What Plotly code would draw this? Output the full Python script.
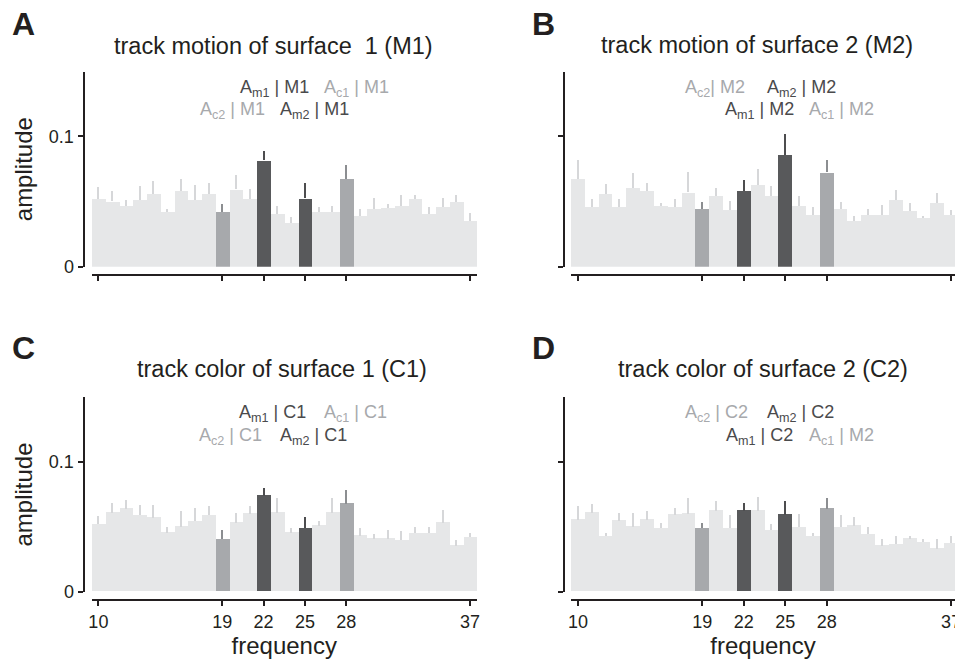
import plotly.graph_objects as go

# ---------------- data ----------------
freqs = list(range(10, 38))
tick_freqs = [10, 19, 22, 25, 28, 37]
mid_freqs = [19, 28]     # A_c2, A_c1
dark_freqs = [22, 25]    # A_m1, A_m2

amp_M1 = [0.0518, 0.0502, 0.0464, 0.0510, 0.0559, 0.0421, 0.0579, 0.0510, 0.0559, 0.0421,
          0.0594, 0.0518, 0.0816, 0.0403, 0.0334, 0.0525, 0.0421, 0.0421, 0.0671, 0.0388,
          0.0441, 0.0449, 0.0464, 0.0518, 0.0403, 0.0457, 0.0495, 0.0349]
err_M1 = [0.0092, 0.0077, 0.0051, 0.0107, 0.0096, 0.0018, 0.0092, 0.0115, 0.0081, 0.0058,
          0.0107, 0.0074, 0.0069, 0.0061, 0.0046, 0.0115, 0.0036, 0.0043, 0.0107, 0.0058,
          0.0087, 0.0033, 0.0089, 0.0030, 0.0054, 0.0068, 0.0053, 0.0062]

amp_M2 = [0.0671, 0.0457, 0.0556, 0.0457, 0.0602, 0.0579, 0.0464, 0.0457, 0.0571, 0.0441,
          0.0541, 0.0434, 0.0579, 0.0625, 0.0541, 0.0857, 0.0464, 0.0395, 0.0724, 0.0441,
          0.0349, 0.0395, 0.0395, 0.0510, 0.0426, 0.0372, 0.0487, 0.0395]
err_M2 = [0.0145, 0.0061, 0.0076, 0.0061, 0.0117, 0.0059, 0.0021, 0.0061, 0.0158, 0.0054,
          0.0061, 0.0071, 0.0087, 0.0122, 0.0079, 0.0158, 0.0077, 0.0062, 0.0097, 0.0054,
          0.0039, 0.0046, 0.0077, 0.0077, 0.0061, 0.0018, 0.0077, 0.0039]

amp_C1 = [0.0517, 0.0609, 0.0639, 0.0586, 0.0570, 0.0455, 0.0501, 0.0540, 0.0586, 0.0402,
          0.0532, 0.0601, 0.0739, 0.0609, 0.0455, 0.0486, 0.0509, 0.0609, 0.0678, 0.0432,
          0.0409, 0.0409, 0.0394, 0.0448, 0.0448, 0.0532, 0.0355, 0.0417]
err_C1 = [0.0064, 0.0076, 0.0069, 0.0084, 0.0100, 0.0039, 0.0123, 0.0107, 0.0076, 0.0076,
          0.0077, 0.0061, 0.0062, 0.0115, 0.0036, 0.0092, 0.0038, 0.0115, 0.0102, 0.0054,
          0.0031, 0.0069, 0.0069, 0.0046, 0.0053, 0.0100, 0.0039, 0.0038]

amp_C2 = [0.0555, 0.0609, 0.0425, 0.0547, 0.0501, 0.0555, 0.0486, 0.0593, 0.0601, 0.0486,
          0.0624, 0.0486, 0.0624, 0.0624, 0.0471, 0.0593, 0.0494, 0.0425, 0.0639, 0.0494,
          0.0509, 0.0440, 0.0355, 0.0363, 0.0409, 0.0379, 0.0332, 0.0371]
err_C2 = [0.0107, 0.0069, 0.0030, 0.0062, 0.0108, 0.0069, 0.0046, 0.0054, 0.0123, 0.0046,
          0.0077, 0.0100, 0.0061, 0.0107, 0.0053, 0.0108, 0.0107, 0.0023, 0.0085, 0.0092,
          0.0069, 0.0054, 0.0047, 0.0062, 0.0023, 0.0030, 0.0070, 0.0054]

panel_letters = ["A", "B", "C", "D"]
panel_titles = ["track motion of surface  1 (M1)", "track motion of surface 2 (M2)",
                "track color of surface 1 (C1)", "track color of surface 2 (C2)"]

# labels: (text, x-start in frequency units, row, kind)
labels_A = [("A<sub>m1</sub> | M1", 20.15, 1, "dark"), ("A<sub>c1</sub> | M1", 26.25, 1, "light"),
            ("A<sub>c2</sub> | M1", 17.2, 2, "light"), ("A<sub>m2</sub> | M1", 23.05, 2, "dark")]
labels_B = [("A<sub>c2</sub>| M2", 17.6, 1, "light"), ("A<sub>m2</sub> | M2", 23.5, 1, "dark"),
            ("A<sub>m1</sub> | M2", 20.5, 2, "dark"), ("A<sub>c1</sub> | M2", 26.6, 2, "light")]
labels_C = [("A<sub>m1</sub> | C1", 20.1, 1, "dark"), ("A<sub>c1</sub> | C1", 26.25, 1, "light"),
            ("A<sub>c2</sub> | C1", 17.15, 2, "light"), ("A<sub>m2</sub> | C1", 23.05, 2, "dark")]
labels_D = [("A<sub>c2</sub> | C2", 17.6, 1, "light"), ("A<sub>m2</sub> | C2", 23.5, 1, "dark"),
            ("A<sub>m1</sub> | C2", 20.55, 2, "dark"), ("A<sub>c1</sub> | M2", 26.6, 2, "light")]

panels = [(amp_M1, err_M1, labels_A), (amp_M2, err_M2, labels_B),
          (amp_C1, err_C1, labels_C), (amp_C2, err_C2, labels_D)]

# ---------------- styling / layout ----------------
W, H = 955, 660
FONT = "Liberation Sans, Arial, sans-serif"
INK = "#231f20"
C_LIGHT, C_MID, C_DARK = "#e6e7e8", "#a7a9ac", "#58595b"
E_LIGHT, E_MID, E_DARK = "#d6d7d9", "#8c8e91", "#4d4d4f"
T_DARK, T_LIGHT = "#4a4a4c", "#a7a9ac"

def px(x):
    return x / W

def py(y):
    return 1 - y / H

# pixel geometry of each panel: (x_dom_left, x_dom_right, xrange_right, yaxis_x, y_top, y_bottom, xaxis_y)
geom = [
    (91.5, 477.0, 37.5, 83.5, 71.7, 266.7, 275.0),
    (571.0, 955.0, 37.28, 564.0, 71.7, 266.7, 275.0),
    (91.5, 477.0, 37.5, 83.5, 397.3, 591.7, 600.0),
    (571.0, 955.0, 37.28, 564.0, 397.3, 591.7, 600.0),
]
YMAX = 0.1495

fig = go.Figure()
layout = dict(width=W, height=H, margin=dict(l=0, r=0, t=0, b=0),
              paper_bgcolor="white", plot_bgcolor="white", showlegend=False,
              bargap=0, barmode="overlay", font=dict(family=FONT, color=INK, size=18))
annotations = []

for i, (amp, err, labels) in enumerate(panels):
    n = i + 1
    xa = "x" if n == 1 else f"x{n}"
    ya = "y" if n == 1 else f"y{n}"
    groups = [
        ([f for f in freqs if f not in mid_freqs + dark_freqs], C_LIGHT, E_LIGHT),
        (mid_freqs, C_MID, E_MID),
        (dark_freqs, C_DARK, E_DARK),
    ]
    for sel, col, ecol in groups:
        idx = [freqs.index(f) for f in sel]
        fig.add_trace(go.Bar(
            x=[freqs[k] for k in idx], y=[amp[k] for k in idx], width=1.0,
            marker=dict(color=col, line=dict(width=0)),
            error_y=dict(type="data", symmetric=False,
                         array=[err[k] for k in idx], arrayminus=[0] * len(idx),
                         color=ecol, thickness=2, width=0),
            xaxis=xa, yaxis=ya, hoverinfo="x+y"))

    xl, xr, xmax, yax, ytop, ybot, xay = geom[i]
    bottom = n >= 3
    left = n in (1, 3)
    layout["xaxis" if n == 1 else f"xaxis{n}"] = dict(
        domain=[px(xl), px(xr)], range=[9.5, xmax], anchor="free", position=py(xay),
        tickmode="array", tickvals=tick_freqs, ticktext=[str(t) for t in tick_freqs],
        showticklabels=bottom, ticks="outside", ticklen=5, tickwidth=2, tickcolor=INK,
        ticklabeloverflow="allow",
        showline=True, linewidth=2, linecolor=INK, showgrid=False, zeroline=False,
        tickfont=dict(size=18, color=INK), automargin=False,
        title=dict(text="frequency" if bottom else "", font=dict(size=24, color=INK), standoff=2))
    layout["yaxis" if n == 1 else f"yaxis{n}"] = dict(
        domain=[py(ybot), py(ytop)], range=[0, YMAX], anchor="free", position=px(yax),
        tickmode="array", tickvals=[0, 0.1], ticktext=["0", "0.1"] if left else ["", ""],
        ticks="outside", ticklen=5, tickwidth=2, tickcolor=INK,
        showline=True, linewidth=2, linecolor=INK, showgrid=False, zeroline=False,
        tickfont=dict(size=18, color=INK), automargin=False,
        title=dict(text="amplitude" if left else "", font=dict(size=24, color=INK), standoff=8))

    # panel letter
    lx = 23 if left else 543
    ly = 24 if n <= 2 else 348
    annotations.append(dict(text=f"<b>{panel_letters[i]}</b>", x=px(lx), y=py(ly), xref="paper",
                            yref="paper", showarrow=False, xanchor="center", yanchor="middle",
                            font=dict(size=32, color=INK)))
    # title
    tcx = [273, 757, 282, 763][i]
    tcy = [46, 45, 369, 369][i]
    annotations.append(dict(text=panel_titles[i], x=px(tcx), y=py(tcy), xref="paper", yref="paper",
                            showarrow=False, xanchor="center", yanchor="middle",
                            font=dict(size=23.5, color=INK)))
    # harmonic labels
    for text, fx, row, kind in labels:
        yv = 0.137 if row == 1 else 0.1195
        annotations.append(dict(text=text, x=fx, y=yv, xref=xa, yref=ya, showarrow=False,
                                xanchor="left", yanchor="middle",
                                font=dict(size=18, color=T_DARK if kind == "dark" else T_LIGHT)))

layout["annotations"] = annotations
fig.update_layout(**layout)
fig.write_html("out.html", config={"displayModeBar": False},
               post_script="document.body.style.margin='0';document.body.style.overflow='hidden';")
